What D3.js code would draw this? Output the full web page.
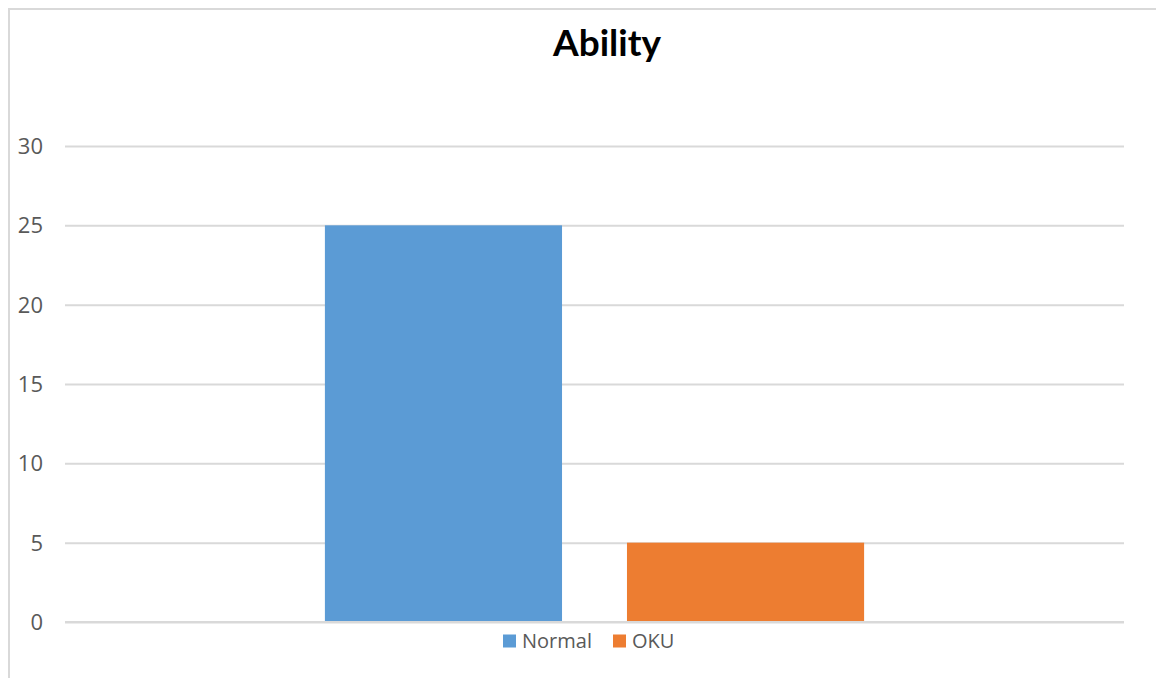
<!DOCTYPE html>
<html>
<head>
<meta charset="utf-8">
<script src="https://cdn.jsdelivr.net/npm/d3@7"></script>
<style>
  html, body { margin: 0; padding: 0; background: #fff; }
  svg { display: block; }
  .tick text { fill: #595959; font-family: "Open Sans", "DejaVu Sans", sans-serif; font-size: 22px; }
</style>
</head>
<body>
<svg id="chart" width="1156" height="678"></svg>
<script>
// chart data
var categories = ["Ability"];
var seriesNames = ["Normal", "OKU"];
var seriesValues = [25, 5];
var seriesColors = ["#5b9bd5", "#ed7d31"];
var yTicks = [0, 5, 10, 15, 20, 25, 30];

var svg = d3.select("#chart");
var width = 1156, height = 678;
var margin = {left: 65, right: 32, top: 146, bottom: 56};

// frame of the chart area (top and left edges are visible in the shot)
svg.append("line").attr("x1", 8).attr("x2", width).attr("y1", 9).attr("y2", 9)
    .attr("stroke", "#d9d9d9").attr("stroke-width", 2);
svg.append("line").attr("x1", 9).attr("x2", 9).attr("y1", 8).attr("y2", height)
    .attr("stroke", "#d9d9d9").attr("stroke-width", 2);

var y = d3.scaleLinear()
    .domain([0, 30])
    .range([height - margin.bottom, margin.top]);

var x0 = d3.scaleBand()
    .domain(categories)
    .range([margin.left, width - margin.right])
    .paddingInner(0)
    .paddingOuter(0.482);

var x1 = d3.scaleBand()
    .domain(seriesNames)
    .range([0, x0.bandwidth()])
    .paddingInner(0.215)
    .paddingOuter(0);

// gridlines + labels
var yAxis = svg.append("g")
    .attr("transform", "translate(" + margin.left + ",0)")
    .call(d3.axisLeft(y).tickValues(yTicks).tickSize(-(width - margin.left - margin.right)).tickPadding(22));
yAxis.select(".domain").remove();
yAxis.selectAll(".tick line").attr("stroke", "#d9d9d9").attr("stroke-width", 2);
yAxis.selectAll(".tick text").attr("dy", "0.34em");

// bars
var group = svg.append("g")
    .selectAll("g")
    .data(categories)
    .enter().append("g")
    .attr("transform", function(d) { return "translate(" + x0(d) + ",0)"; });

group.selectAll("rect")
    .data(seriesNames.map(function(s, i) { return {name: s, value: seriesValues[i], color: seriesColors[i]}; }))
    .enter().append("rect")
    .attr("x", function(d) { return x1(d.name); })
    .attr("y", function(d) { return y(d.value); })
    .attr("width", x1.bandwidth())
    .attr("height", function(d) { return y(0) - y(d.value); })
    .attr("fill", function(d) { return d.color; });

// baseline over the bars
svg.append("line")
    .attr("x1", margin.left).attr("x2", width - margin.right)
    .attr("y1", y(0)).attr("y2", y(0))
    .attr("stroke", "#d9d9d9").attr("stroke-width", 2);

// title
svg.append("text")
    .attr("x", 607).attr("y", 56)
    .attr("text-anchor", "middle")
    .attr("font-family", "Lato, 'Open Sans', sans-serif")
    .attr("font-weight", "bold")
    .attr("font-size", 37)
    .attr("fill", "#000")
    .text("Ability");

// legend
var legendX = [503, 613];
var legend = svg.append("g").selectAll("g")
    .data(seriesNames)
    .enter().append("g")
    .attr("transform", function(d, i) { return "translate(" + legendX[i] + ",641)"; });
legend.append("rect")
    .attr("x", 0).attr("y", -6.5)
    .attr("width", 13).attr("height", 13)
    .attr("fill", function(d, i) { return seriesColors[i]; });
legend.append("text")
    .attr("x", 19).attr("dy", "0.35em")
    .attr("font-family", "'Open Sans', sans-serif")
    .attr("font-size", 20)
    .attr("fill", "#595959")
    .text(function(d) { return d; });
</script>
</body>
</html>
